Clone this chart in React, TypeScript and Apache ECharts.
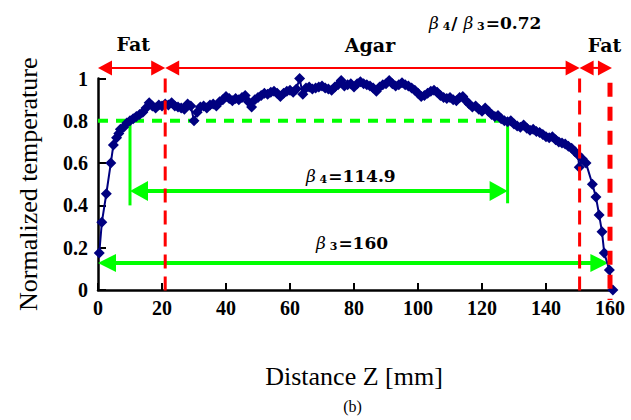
import React, { useEffect, useRef } from "react";
import * as echarts from "echarts";

const distanceMm = [
  0.4, 1.2, 2.6, 4, 4.8, 5.8, 6.5,
  7, 8, 9, 10, 11, 12, 13, 14, 15, 16, 17, 18, 19, 20,
  21, 22, 23, 24, 25, 26, 27, 28, 29, 30, 31, 32, 33, 34, 35, 36, 37, 38, 39, 40,
  41, 42, 43, 44, 45, 46, 47, 48, 49, 50, 51, 52, 53, 54, 55, 56, 57, 58, 59, 60,
  61, 62, 63, 64, 65, 66, 67, 68, 69, 70, 71, 72, 73, 74, 75, 76, 77, 78, 79, 80,
  81, 82, 83, 84, 85, 86, 87, 88, 89, 90, 91, 92, 93, 94, 95, 96, 97, 98, 99, 100,
  101, 102, 103, 104, 105, 106, 107, 108, 109, 110, 111, 112, 113, 114, 115, 116, 117, 118, 119, 120,
  121, 122, 123, 124, 125, 126, 127, 128, 129, 130, 131, 132, 133, 134, 135, 136, 137, 138, 139, 140,
  141, 142, 143, 144, 145, 146, 147, 148, 149, 150,
  150.4, 151.3, 152.5, 154.5, 155.6, 156.6, 157.5, 158.2, 159.8, 160.9,
];

const normTemp = [
  0.175, 0.32, 0.455, 0.6, 0.685, 0.72, 0.74,
  0.76, 0.77, 0.79, 0.8, 0.81, 0.82, 0.83, 0.84, 0.86, 0.885, 0.87, 0.86, 0.875, 0.87,
  0.88, 0.875, 0.885, 0.87, 0.865, 0.86, 0.855, 0.88, 0.87, 0.8, 0.84, 0.865, 0.87, 0.86, 0.875, 0.88, 0.87, 0.89, 0.9, 0.915,
  0.905, 0.895, 0.905, 0.9, 0.91, 0.92, 0.89, 0.865, 0.9, 0.91, 0.92, 0.93, 0.925, 0.935, 0.94, 0.93, 0.915, 0.93, 0.94, 0.945,
  0.935, 0.95, 1.0, 0.925, 0.955, 0.96, 0.95, 0.955, 0.96, 0.965, 0.955, 0.95, 0.945, 0.96, 0.97, 0.99, 0.965, 0.97, 0.975, 0.96,
  0.975, 0.985, 0.975, 0.97, 0.965, 0.955, 0.94, 0.96, 0.97, 0.975, 0.99, 0.975, 0.965, 0.97, 0.98, 0.97, 0.965, 0.955, 0.945, 0.93,
  0.915, 0.92, 0.93, 0.94, 0.945, 0.935, 0.92, 0.91, 0.905, 0.91, 0.9, 0.895, 0.91, 0.915, 0.895, 0.88, 0.865, 0.87, 0.855, 0.845,
  0.86, 0.845, 0.83, 0.82, 0.825, 0.81, 0.8, 0.795, 0.8, 0.785, 0.775, 0.77, 0.78, 0.765, 0.755, 0.76, 0.75, 0.745, 0.735, 0.725,
  0.72, 0.725, 0.71, 0.7, 0.695, 0.69, 0.68, 0.67, 0.655, 0.64,
  0.58, 0.62, 0.6, 0.5, 0.44, 0.355, 0.275, 0.175, 0.095, 0.0,
];

// region boundaries (mm)
const fatLeftEnd = 21;
const fatRightStart = 150.5;
const sampleEnd = 160;
// beta annotations
const beta4Start = 10;
const beta4End = 128;
const beta4Level = 0.8;
const beta4Label = "114.9";
const beta3Label = "160";
const ratioLabel = "0.72";

const RED = "#FF0000";
const GREEN = "#00FF00";
const NAVY = "#000080";
const SERIF = "'Liberation Serif', 'Times New Roman', serif";
const CENTURY = "'DejaVu Serif', 'Liberation Serif', serif";

export default function App() {
  const ref = useRef<HTMLDivElement>(null);
  useEffect(() => {
    if (!ref.current) return;
    const chart = echarts.init(ref.current, undefined, { renderer: "svg" });
    const data = distanceMm.map((z, i) => [z, normTemp[i]]);
    chart.setOption({
      animation: false,
      backgroundColor: "#ffffff",
      grid: { left: 98, right: 21, top: 78.5, bottom: 130, containLabel: false },
      xAxis: {
        type: "value",
        min: 0,
        max: 160,
        interval: 20,
        name: "Distance Z [mm]",
        nameLocation: "middle",
        nameGap: 73,
        nameTextStyle: { fontFamily: SERIF, fontSize: 26, color: "#000" },
        axisLine: { show: true, onZero: false, lineStyle: { color: "#000", width: 2.5 } },
        axisTick: { show: true, inside: true, length: 7, lineStyle: { color: "#000", width: 2 } },
        axisLabel: { fontFamily: SERIF, fontWeight: "bold", fontSize: 20, color: "#000", margin: 8 },
        splitLine: { show: false },
      },
      yAxis: {
        type: "value",
        min: 0,
        max: 1,
        interval: 0.2,
        name: "Normalized temperature",
        nameLocation: "middle",
        nameGap: 57,
        nameTextStyle: { fontFamily: SERIF, fontSize: 26, color: "#000" },
        axisLine: { show: true, onZero: false, lineStyle: { color: "#000", width: 2.5 } },
        axisTick: { show: true, inside: true, length: 8, lineStyle: { color: "#000", width: 2 } },
        axisLabel: { fontFamily: SERIF, fontWeight: "bold", fontSize: 20, color: "#000", margin: 10 },
        splitLine: { show: false },
      },
      series: [
        {
          type: "line",
          data,
          clip: false,
          symbol: "diamond",
          symbolSize: 11,
          lineStyle: { color: NAVY, width: 2 },
          itemStyle: { color: NAVY },
          z: 5,
        },
      ],
    });

    const P = (x: number, y: number) => chart.convertToPixel({ gridIndex: 0 }, [x, y]) as number[];
    const g: any[] = [];

    const arrow = (x1: number, x2: number, yv: number, color: string, lw: number, len: number, half: number, left: boolean, right: boolean, z: number) => {
      const a = P(x1, yv);
      const b = P(x2, yv);
      g.push({
        type: "line",
        z,
        shape: { x1: a[0] + (left ? len / 2 : 0), y1: a[1], x2: b[0] - (right ? len / 2 : 0), y2: b[1] },
        style: { stroke: color, lineWidth: lw },
      });
      if (left)
        g.push({ type: "polygon", z, shape: { points: [[a[0], a[1]], [a[0] + len, a[1] - half], [a[0] + len, a[1] + half]] }, style: { fill: color } });
      if (right)
        g.push({ type: "polygon", z, shape: { points: [[b[0], b[1]], [b[0] - len, b[1] - half], [b[0] - len, b[1] + half]] }, style: { fill: color } });
    };
    const vline = (x: number, y1: number, y2: number, color: string, lw: number, dash: number[] | null, z: number) => {
      const a = P(x, y1);
      const b = P(x, y2);
      g.push({
        type: "line",
        z,
        shape: { x1: a[0], y1: a[1], x2: b[0], y2: b[1] },
        style: { stroke: color, lineWidth: lw, lineDash: dash || undefined },
      });
    };
    const text = (x: number, yv: number, t: string, rich: any, z: number) => {
      const p = P(x, yv);
      g.push({ type: "text", z, x: p[0], y: p[1], style: { text: t, rich, align: "center", verticalAlign: "middle" } });
    };

    // green
    const gd1 = P(0, beta4Level);
    const gd2 = P(129.5, beta4Level);
    g.push({ type: "line", z: 1, shape: { x1: gd1[0], y1: gd1[1], x2: gd2[0], y2: gd2[1] }, style: { stroke: GREEN, lineWidth: 4, lineDash: [10, 8] } });
    vline(beta4Start, beta4Level, 0.4, GREEN, 3, null, 1);
    vline(beta4End, beta4Level, 0.41, GREEN, 3, null, 1);
    arrow(beta4Start, beta4End, 0.468, GREEN, 4, 18, 10, true, true, 1);
    arrow(0, 159.5, 0.128, GREEN, 4, 18, 9, true, true, 1);

    const greenRich = {
      b: { fontFamily: CENTURY, fontStyle: "italic", fontSize: 17, color: GREEN, fontWeight: "normal" },
      s: { fontFamily: CENTURY, fontWeight: "bold", fontSize: 11, color: GREEN, padding: [7, 1, 0, 0] },
      n: { fontFamily: CENTURY, fontWeight: "bold", fontSize: 17, color: GREEN },
    };
    text(79, 0.54, "{b|β}{s| 4}{n|=" + beta4Label + "}", greenRich, 6);
    text(79.4, 0.222, "{b|β}{s| 3}{n|=" + beta3Label + "}", greenRich, 6);

    // red
    vline(fatLeftEnd, 1.0, -0.035, RED, 3, [14, 8], 10);
    vline(fatRightStart, 1.0, -0.035, RED, 3, [14, 8], 10);
    vline(sampleEnd, 0.98, -0.047, RED, 5, [14, 10], 10);
    arrow(0, fatLeftEnd, 1.05, RED, 2, 14, 7.5, true, true, 10);
    arrow(fatLeftEnd, fatRightStart, 1.05, RED, 2, 14, 7.5, true, true, 10);
    arrow(fatRightStart, 160.6, 1.05, RED, 2, 14, 7.5, true, true, 10);
    const redRich = { r: { fontFamily: CENTURY, fontWeight: "bold", fontSize: 19, color: RED } };
    text(11, 1.165, "{r|Fat}", redRich, 10);
    text(85, 1.16, "{r|Agar}", redRich, 10);
    text(158.3, 1.16, "{r|Fat}", redRich, 10);

    const navyRich = {
      b: { fontFamily: CENTURY, fontStyle: "italic", fontSize: 17, color: NAVY },
      s: { fontFamily: CENTURY, fontWeight: "bold", fontSize: 11, color: NAVY, padding: [7, 1, 0, 0] },
      n: { fontFamily: CENTURY, fontWeight: "bold", fontSize: 17, color: NAVY },
    };
    text(121, 1.262, "{b|β}{s| 4}{n|/ }{b|β}{s| 3}{n|=" + ratioLabel + "}", navyRich, 10);

    const w = chart.getWidth();
    g.push({
      type: "text",
      x: w / 2 + 37,
      y: 406,
      style: { text: "(b)", fontFamily: SERIF, fontSize: 16, fill: "#000", align: "center", verticalAlign: "middle" },
    });

    chart.setOption({ graphic: g });
    return () => chart.dispose();
  }, []);
  return <div ref={ref} style={{ position: "fixed", left: 0, top: 0, width: 631, height: 420 }} />;
}
